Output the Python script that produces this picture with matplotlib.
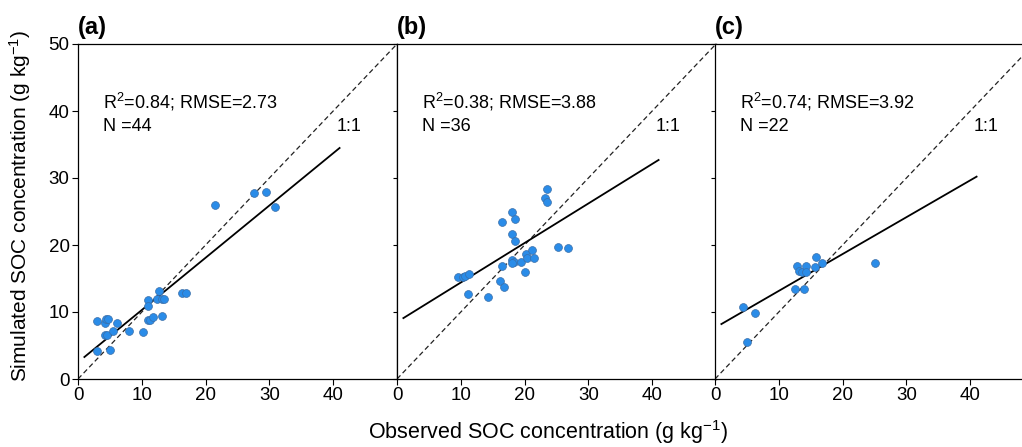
import numpy as np
import matplotlib.pyplot as plt

plt.rcParams['font.family'] = ['Liberation Sans', 'DejaVu Sans']
plt.rcParams['mathtext.fontset'] = 'custom'
plt.rcParams['mathtext.rm'] = 'Liberation Sans'
plt.rcParams['mathtext.it'] = 'Liberation Sans:italic'

# observed / simulated SOC (g kg-1)
obs_a = [2.9, 4.3, 4.4, 4.7, 6.1, 4.2, 4.6, 5.5, 2.9, 5.0, 8.0, 10.2, 10.9, 11.3, 11.8,
         13.1, 10.9, 11.0, 12.4, 12.7, 13.2, 13.5, 16.3, 17.0, 21.5, 27.6, 29.5, 30.8]
sim_a = [8.7, 8.3, 9.0, 9.0, 8.4, 6.5, 6.6, 7.2, 4.2, 4.4, 7.1, 7.0, 8.8, 8.8, 9.3,
         9.4, 11.8, 10.9, 12.0, 13.2, 12.0, 12.0, 12.8, 12.8, 26.0, 27.7, 27.9, 25.7]

obs_b = [9.5, 10.3, 10.7, 11.3, 11.1, 14.2, 16.2, 16.7, 16.4, 16.4, 18.1, 18.5, 18.1,
         18.5, 18.0, 18.3, 18.0, 19.4, 20.2, 20.3, 21.2, 21.5, 20.1, 23.2, 23.5, 23.5,
         25.2, 26.8]
sim_b = [15.2, 15.2, 15.3, 15.6, 12.7, 12.2, 14.7, 13.8, 16.9, 23.4, 25.0, 23.9, 21.6,
         20.6, 17.7, 17.4, 17.3, 17.5, 18.6, 18.0, 19.2, 18.1, 16.0, 27.0, 26.4, 28.4,
         19.7, 19.5]

obs_c = [4.4, 6.2, 5.0, 12.5, 14.0, 12.9, 13.2, 13.6, 14.2, 14.3, 15.8, 15.6, 16.8, 25.1]
sim_c = [10.8, 9.9, 5.5, 13.4, 13.4, 16.9, 16.1, 15.9, 16.9, 16.0, 18.2, 16.7, 17.3, 17.3]

# fitted regression lines (slope, intercept)
slopes = [0.78, 0.59, 0.55]
intercepts = [2.5, 8.5, 7.65]
fit_range = [1, 41]

r2_text = ['R$^2$=0.84; RMSE=2.73', 'R$^2$=0.38; RMSE=3.88', 'R$^2$=0.74; RMSE=3.92']
n_text = ['N =44', 'N =36', 'N =22']
labels = ['(a)', '(b)', '(c)']
obs = [obs_a, obs_b, obs_c]
sim = [sim_a, sim_b, sim_c]

fig = plt.figure(figsize=(10.22, 4.47), dpi=100)
lefts = [78, 397, 715]
for i in range(3):
    ax = fig.add_axes([lefts[i] / 1022, 1 - 379 / 447, 319 / 1022, 335 / 447])
    ax.plot([0, 50], [0, 50], color='#222222', ls=(0, (4, 2.5)), lw=0.9)
    xf = np.array(fit_range)
    ax.plot(xf, slopes[i] * xf + intercepts[i], color='black', lw=1.3)
    ax.scatter(obs[i], sim[i], s=32, color='#2a8ce8', edgecolors='#3a6ea8',
               linewidths=0.5, zorder=3)
    ax.set_xlim(0, 50)
    ax.set_ylim(0, 50)
    ax.set_xticks([0, 10, 20, 30, 40])
    ax.set_yticks([0, 10, 20, 30, 40, 50])
    ax.tick_params(labelsize=13.5, length=4, width=0.8, direction='out', pad=2)
    if i > 0:
        ax.set_yticklabels([])
        ax.tick_params(axis='y', length=3)
    ax.text(3.9, 40.4, r2_text[i], fontsize=13, va='baseline')
    ax.text(3.9, 37.0, n_text[i], fontsize=13, va='baseline')
    ax.text(40.6, 37.0, '1:1', fontsize=13, va='baseline')
    ax.text(0, 1.03, labels[i], transform=ax.transAxes, fontsize=17,
            fontweight='bold', va='baseline')
    for sp in ax.spines.values():
        sp.set_linewidth(0.9)

fig.text(0.02, 0.54, 'Simulated SOC concentration (g kg$^{-1}$)', rotation=90,
         ha='center', va='center', fontsize=15)
fig.text(0.536, 0.033, 'Observed SOC concentration (g kg$^{-1}$)',
         ha='center', va='center', fontsize=15.5)

fig.savefig('out.png', dpi=100)
